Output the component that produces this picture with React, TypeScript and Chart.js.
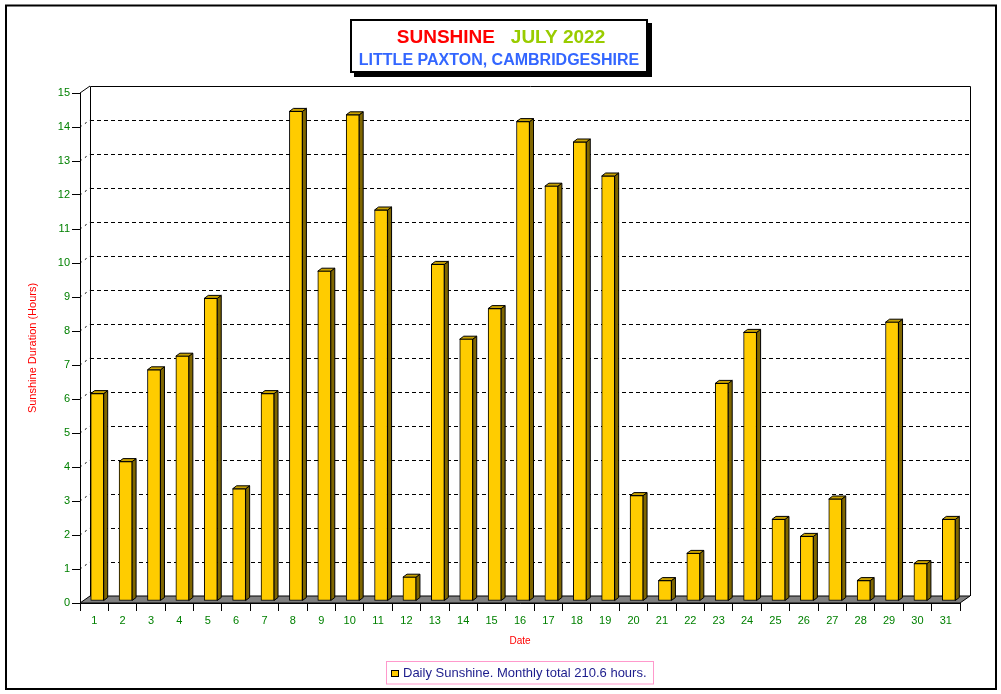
import React, { useEffect, useRef } from 'react';
import { Chart, registerables } from 'chart.js';

Chart.register(...registerables);

// ---------- Data ----------
const dates: string[] = [
  '1', '2', '3', '4', '5', '6', '7', '8', '9', '10',
  '11', '12', '13', '14', '15', '16', '17', '18', '19', '20',
  '21', '22', '23', '24', '25', '26', '27', '28', '29', '30', '31',
];
const sunshineHours: number[] = [
  6.1, 4.1, 6.8, 7.2, 8.9, 3.3, 6.1, 14.4, 9.7, 14.3,
  11.5, 0.7, 9.9, 7.7, 8.6, 14.1, 12.2, 13.5, 12.5, 3.1,
  0.6, 1.4, 6.4, 7.9, 2.4, 1.9, 3.0, 0.6, 8.2, 1.1, 2.4,
];
const yMin = 0;
const yMax = 15;
const yStep = 1;

const titleWord1 = 'SUNSHINE';
const titleWord2 = 'JULY 2022';
const subtitle = 'LITTLE PAXTON, CAMBRIDGESHIRE';
const xTitle = 'Date';
const yTitle = 'Sunshine Duration (Hours)';
const legendLabel = 'Daily Sunshine. Monthly total 210.6 hours.';

// ---------- Styles ----------
const FONT = '"Liberation Sans", Arial, sans-serif';
const BAR_FRONT = '#ffcc00';
const BAR_SIDE = '#7f6600';
const BAR_TOP = '#c9a200';
const TICK_COLOR = '#008000';
const WALL_DX = 10;
const WALL_DY = -7;
const BAR_DX = 3;
const BAR_DY = -2;
const DEPTH_DX = 4;
const DEPTH_DY = -3;

const threeDPlugin = {
  id: 'threeD',
  beforeDatasetsDraw(chart: any) {
    const { ctx, chartArea } = chart;
    const ys = chart.scales.y;
    const left = chartArea.left;
    const right = chartArea.right;
    const y0 = ys.getPixelForValue(yMin);
    const yTop = ys.getPixelForValue(yMax);

    ctx.save();
    ctx.lineWidth = 1;
    ctx.strokeStyle = '#000';

    // floor
    ctx.beginPath();
    ctx.moveTo(left, y0);
    ctx.lineTo(right, y0);
    ctx.lineTo(right + WALL_DX, y0 + WALL_DY);
    ctx.lineTo(left + WALL_DX, y0 + WALL_DY);
    ctx.closePath();
    ctx.fillStyle = '#808080';
    ctx.fill();
    ctx.stroke();

    // back wall frame
    ctx.beginPath();
    ctx.moveTo(Math.round(left + WALL_DX) + 0.5, y0 + WALL_DY);
    ctx.lineTo(Math.round(left + WALL_DX) + 0.5, Math.round(yTop + WALL_DY) + 0.5);
    ctx.lineTo(Math.round(right + WALL_DX) + 0.5, Math.round(yTop + WALL_DY) + 0.5);
    ctx.lineTo(Math.round(right + WALL_DX) + 0.5, y0 + WALL_DY);
    ctx.stroke();

    // top-left diagonal
    ctx.beginPath();
    ctx.moveTo(left, yTop);
    ctx.lineTo(left + WALL_DX, yTop + WALL_DY);
    ctx.stroke();

    // dashed gridlines on the back wall
    ctx.setLineDash([4, 3]);
    ys.ticks.forEach((t: any) => {
      if (t.value <= yMin || t.value >= yMax) return;
      const py = Math.round(ys.getPixelForValue(t.value) + WALL_DY) + 0.5;
      ctx.beginPath();
      ctx.moveTo(left + WALL_DX, py);
      ctx.lineTo(right + WALL_DX, py);
      ctx.stroke();
    });
    ctx.setLineDash([2, 4]);
    ys.ticks.forEach((t: any) => {
      if (t.value <= yMin || t.value >= yMax) return;
      const py = ys.getPixelForValue(t.value);
      ctx.beginPath();
      ctx.moveTo(left, py);
      ctx.lineTo(left + WALL_DX, py + WALL_DY);
      ctx.stroke();
    });
    ctx.setLineDash([]);
    ctx.restore();

    // bars: translate for depth position, draw side and top faces
    ctx.save();
    ctx.translate(BAR_DX, BAR_DY);
    const meta = chart.getDatasetMeta(0);
    meta.data.forEach((el: any) => {
      const { x, y, base, width } = el.getProps(['x', 'y', 'base', 'width'], true);
      const l = x - width / 2;
      const r = x + width / 2;
      ctx.lineWidth = 1;
      ctx.strokeStyle = '#000';
      // side
      ctx.beginPath();
      ctx.moveTo(r, y);
      ctx.lineTo(r + DEPTH_DX, y + DEPTH_DY);
      ctx.lineTo(r + DEPTH_DX, base + DEPTH_DY);
      ctx.lineTo(r, base);
      ctx.closePath();
      ctx.fillStyle = BAR_SIDE;
      ctx.fill();
      ctx.stroke();
      // top
      ctx.beginPath();
      ctx.moveTo(l, y);
      ctx.lineTo(l + DEPTH_DX, y + DEPTH_DY);
      ctx.lineTo(r + DEPTH_DX, y + DEPTH_DY);
      ctx.lineTo(r, y);
      ctx.closePath();
      ctx.fillStyle = BAR_TOP;
      ctx.fill();
      ctx.stroke();
    });
  },
  afterDatasetsDraw(chart: any) {
    chart.ctx.restore();
  },
  afterDraw(chart: any) {
    const { ctx, width, height } = chart;
    ctx.save();

    // outer border
    ctx.lineWidth = 2;
    ctx.strokeStyle = '#000';
    ctx.strokeRect(6, 5.5, width - 11, height - 10.5);

    // title box with shadow
    const bx = 350, by = 19, bw = 298, bh = 54;
    ctx.fillStyle = '#000';
    ctx.fillRect(bx + 4, by + 4, bw, bh);
    ctx.fillRect(bx, by, bw, bh);
    ctx.fillStyle = '#fff';
    ctx.fillRect(bx + 2, by + 2, bw - 4, bh - 4);

    const cx = bx + bw / 2;
    ctx.textBaseline = 'alphabetic';
    ctx.font = `bold 19px ${FONT}`;
    const gap = ctx.measureText('   ').width;
    const w1 = ctx.measureText(titleWord1).width;
    const w2 = ctx.measureText(titleWord2).width;
    const startX = cx + 2 - (w1 + gap + w2) / 2;
    ctx.textAlign = 'left';
    ctx.fillStyle = '#ff0000';
    ctx.fillText(titleWord1, startX, 43);
    ctx.fillStyle = '#99cc00';
    ctx.fillText(titleWord2, startX + w1 + gap, 43);

    ctx.font = `bold 16px ${FONT}`;
    ctx.textAlign = 'center';
    ctx.fillStyle = '#3366ff';
    ctx.fillText(subtitle, cx, 64.5);

    // legend
    const lx = 386.5, ly = 661.5, lw = 267, lh = 22.5;
    ctx.lineWidth = 1;
    ctx.strokeStyle = '#ff99cc';
    ctx.strokeRect(lx, ly, lw, lh);
    ctx.fillStyle = BAR_FRONT;
    ctx.fillRect(391, 670, 8, 7);
    ctx.strokeStyle = '#000';
    ctx.strokeRect(391.5, 670.5, 7, 6);
    ctx.font = `13px ${FONT}`;
    ctx.textAlign = 'left';
    ctx.fillStyle = '#1c1c8c';
    ctx.fillText(legendLabel, 403, 677);

    ctx.restore();
  },
};

export default function App() {
  const canvasRef = useRef<HTMLCanvasElement | null>(null);

  useEffect(() => {
    if (!canvasRef.current) return;
    const chart = new Chart(canvasRef.current, {
      type: 'bar',
      data: {
        labels: dates,
        datasets: [
          {
            label: legendLabel,
            data: sunshineHours,
            backgroundColor: BAR_FRONT,
            borderColor: '#000',
            borderWidth: 1,
            borderSkipped: false,
            barThickness: 13,
            clip: false as any,
          },
        ],
      },
      options: {
        animation: false,
        responsive: false,
        devicePixelRatio: 1,
        events: [],
        layout: { padding: { left: 0, right: 41, top: 93, bottom: 31 } },
        plugins: {
          legend: { display: false },
          title: { display: false },
          tooltip: { enabled: false },
        },
        scales: {
          x: {
            type: 'category',
            offset: true,
            grid: {
              display: true,
              drawOnChartArea: false,
              drawTicks: true,
              tickLength: 8,
              color: '#000',
              offset: true,
            },
            border: { display: true, color: '#000', width: 1 },
            ticks: {
              color: TICK_COLOR,
              font: { family: FONT, size: 11 },
              padding: 3,
              maxRotation: 0,
              autoSkip: false,
            },
            title: {
              display: true,
              text: xTitle,
              color: '#ff0000',
              font: { family: FONT, size: 10 },
              padding: { top: 0, bottom: 16 },
            },
            afterFit: (scale: any) => {
              scale.height = 60;
            },
          },
          y: {
            type: 'linear',
            min: yMin,
            max: yMax,
            grid: {
              display: true,
              drawOnChartArea: false,
              drawTicks: true,
              tickLength: 8,
              color: '#000',
            },
            border: { display: true, color: '#000', width: 1 },
            ticks: {
              stepSize: yStep,
              color: TICK_COLOR,
              font: { family: FONT, size: 11 },
              padding: 2,
            },
            title: {
              display: true,
              text: yTitle,
              color: '#ff0000',
              font: { family: FONT, size: 11 },
              padding: { top: 26, bottom: 0 },
            },
            afterFit: (scale: any) => {
              scale.width = 80;
            },
          },
        },
      },
      plugins: [threeDPlugin],
    });
    return () => chart.destroy();
  }, []);

  return (
    <div style={{ position: 'fixed', left: 0, top: 0, width: 1001, height: 694, background: '#fff' }}>
      <canvas ref={canvasRef} width={1001} height={694} style={{ display: 'block' }} />
    </div>
  );
}
